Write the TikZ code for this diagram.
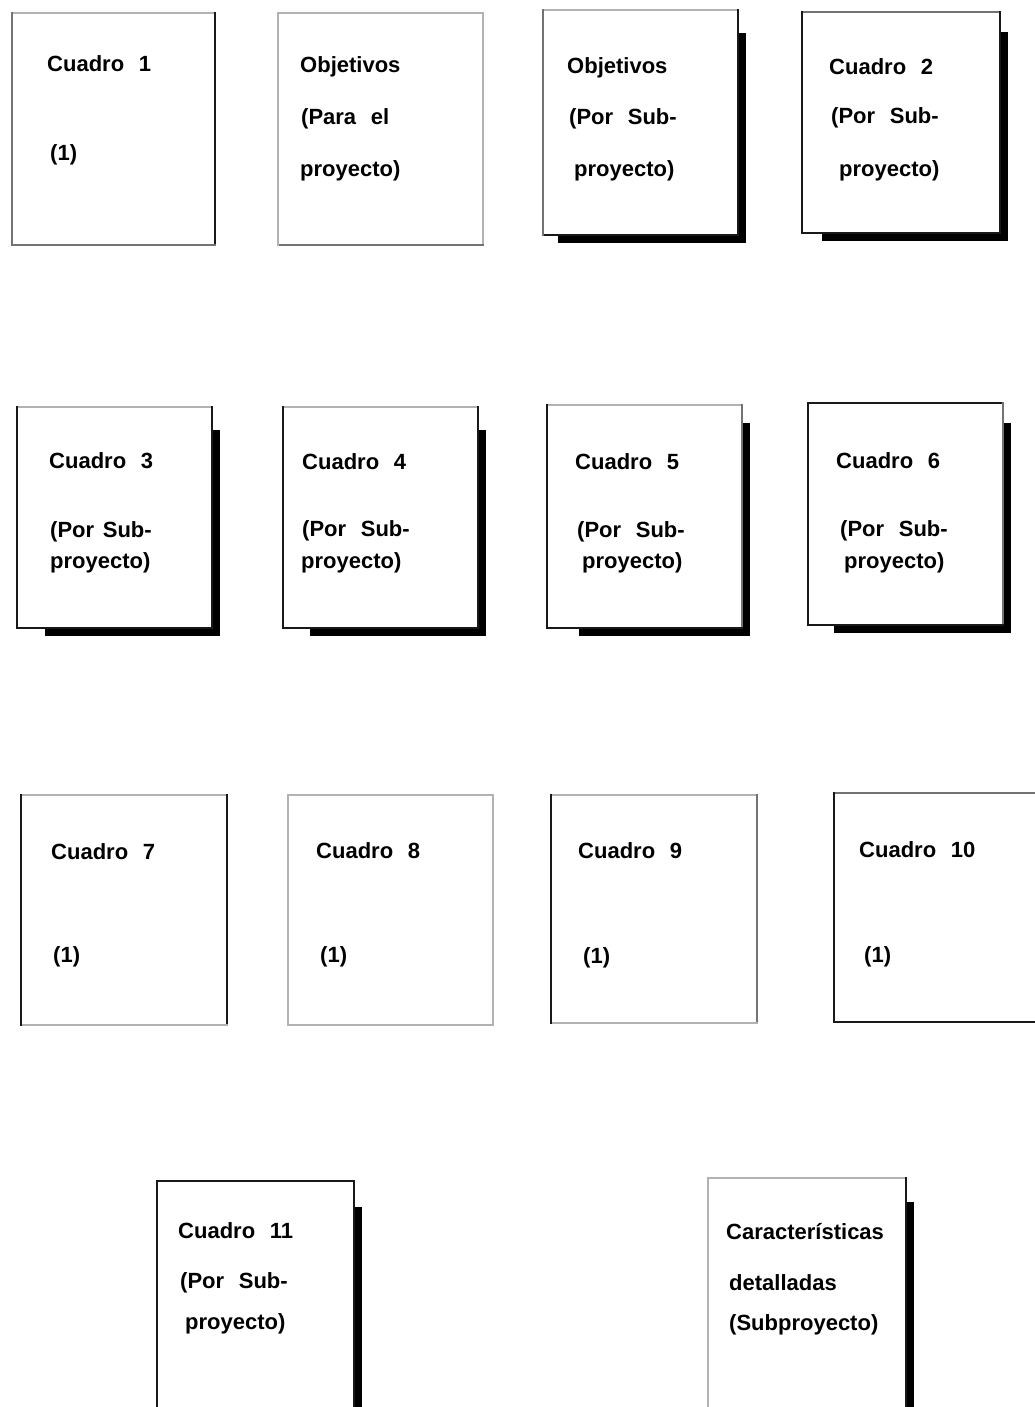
\documentclass[tikz,border=0pt]{standalone}
\usepackage{fontspec}
\newfontfamily\labfont{Liberation Sans}[WordSpace=2.4]
\tikzset{
  card/.style={fill=white, draw=none, anchor=north west, inner sep=0pt, outer sep=0pt},
  shadowbox/.style={fill=black, draw=none, anchor=north west, inner sep=0pt, outer sep=0pt},
  lbl/.style={anchor=base west, inner sep=0pt, font=\labfont\bfseries\fontsize{22}{26}\selectfont},
  dk/.style={draw=black!90, line width=1.8pt, line cap=rect},
  md/.style={draw=black!55, line width=1.5pt, line cap=rect},
  lt/.style={draw=black!30, line width=1.5pt, line cap=rect},
}
% name, left, top, right, bottom
\newcommand{\cardnode}[5]{%
  \node[card, minimum width={(#4-#2)*1pt}, minimum height={(#5-#3)*1pt}] (#1) at (#2,#3) {};}
% name, left, top, right, bottom, shadow left offset, shadow top offset
\newcommand{\shadownode}[7]{%
  \node[shadowbox, minimum width={(#4+8-#2-#6)*1pt}, minimum height={(#5+8-#3-#7)*1pt}] (#1) at (#2+#6,#3+#7) {};}
% edge styles: top, right, bottom, left
\newcommand{\edges}[5]{%
  \draw[#2] (#1.north west) -- (#1.north east);
  \draw[#3] (#1.north east) -- (#1.south east);
  \draw[#4] (#1.south east) -- (#1.south west);
  \draw[#5] (#1.south west) -- (#1.north west);}
\begin{document}
\begin{tikzpicture}[x=1pt,y=-1pt]
\useasboundingbox[fill=white] (0,0) rectangle (1035,1407);

% ---------- Row 1 ----------
\cardnode{A}{12}{13}{215}{245}
\edges{A}{lt}{dk,line width=2.6pt}{md}{md}
\node[lbl] (A1) at (47,72) {Cuadro 1};
\node[lbl] (A2) at (50,161) {(1)};

\cardnode{B}{278}{13}{483}{245}
\edges{B}{lt}{lt}{md}{lt}
\node[lbl] (B1) at (300,73) {Objetivos};
\node[lbl] (B2) at (301,125) {(Para el};
\node[lbl] (B3) at (300,177) {proyecto)};

\shadownode{Cs}{543}{10}{738}{235}{15}{23}
\cardnode{C}{543}{10}{738}{235}
\edges{C}{lt}{dk}{dk}{md}
\node[lbl] (C1) at (567,74) {Objetivos};
\node[lbl] (C2) at (569,125) {(Por Sub-};
\node[lbl] (C3) at (574,177) {proyecto)};

\shadownode{Ds}{802}{12}{1000}{233}{20}{20}
\cardnode{D}{802}{12}{1000}{233}
\edges{D}{md}{dk}{dk}{dk}
\node[lbl] (D1) at (829,75) {Cuadro 2};
\node[lbl] (D2) at (831,124) {(Por Sub-};
\node[lbl] (D3) at (839,177) {proyecto)};

% ---------- Row 2 ----------
\shadownode{Es}{17}{407}{212}{628}{28}{23}
\cardnode{E}{17}{407}{212}{628}
\edges{E}{lt}{dk}{dk}{dk}
\node[lbl] (E1) at (49,468) {Cuadro 3};
\node[lbl] (E2) at (50,537) {(Por\hspace{-6pt} Sub-};
\node[lbl] (E3) at (50,568) {proyecto)};

\shadownode{Fs}{283}{407}{478}{628}{27}{23}
\cardnode{F}{283}{407}{478}{628}
\edges{F}{lt}{dk}{dk}{dk}
\node[lbl] (F1) at (302,469) {Cuadro 4};
\node[lbl] (F2) at (302,536) {(Por Sub-};
\node[lbl] (F3) at (301,568) {proyecto)};

\shadownode{Gs}{547}{405}{742}{628}{32}{18}
\cardnode{G}{547}{405}{742}{628}
\edges{G}{lt}{md}{dk}{dk}
\node[lbl] (G1) at (575,469) {Cuadro 5};
\node[lbl] (G2) at (577,537) {(Por Sub-};
\node[lbl] (G3) at (582,568) {proyecto)};

\shadownode{Hs}{808}{403}{1003}{625}{26}{20}
\cardnode{H}{808}{403}{1003}{625}
\edges{H}{dk}{md}{dk}{dk}
\node[lbl] (H1) at (836,468) {Cuadro 6};
\node[lbl] (H2) at (840,536) {(Por Sub-};
\node[lbl] (H3) at (844,568) {proyecto)};

% ---------- Row 3 ----------
\cardnode{I}{21}{795}{227}{1025}
\edges{I}{lt}{dk}{lt}{dk}
\node[lbl] (I1) at (51,859) {Cuadro 7};
\node[lbl] (I2) at (53,962) {(1)};

\cardnode{J}{288}{795}{493}{1025}
\edges{J}{lt}{lt}{lt}{lt}
\node[lbl] (J1) at (316,858) {Cuadro 8};
\node[lbl] (J2) at (320,962) {(1)};

\cardnode{K}{551}{795}{757}{1023}
\edges{K}{lt}{md}{lt}{dk}
\node[lbl] (K1) at (578,858) {Cuadro 9};
\node[lbl] (K2) at (583,963) {(1)};

\cardnode{L}{834}{793}{1045}{1022}
\edges{L}{md}{md}{dk}{dk}
\node[lbl] (L1) at (859,857) {Cuadro 10};
\node[lbl] (L2) at (864,962) {(1)};

% ---------- Row 4 ----------
\shadownode{Ms}{157}{1181}{354}{1420}{26}{26}
\cardnode{M}{157}{1181}{354}{1420}
\edges{M}{dk}{dk}{dk}{dk}
\node[lbl] (M1) at (178,1238) {Cuadro 11};
\node[lbl] (M2) at (180,1288) {(Por Sub-};
\node[lbl] (M3) at (185,1329) {proyecto)};

\shadownode{Ns}{708}{1178}{906}{1420}{26}{24}
\cardnode{N}{708}{1178}{906}{1420}
\edges{N}{lt}{dk}{dk}{lt}
\node[lbl] (N1) at (726,1239) {Características};
\node[lbl] (N2) at (729,1290) {detalladas};
\node[lbl] (N3) at (729,1330) {(Subproyecto)};
\end{tikzpicture}
\end{document}
